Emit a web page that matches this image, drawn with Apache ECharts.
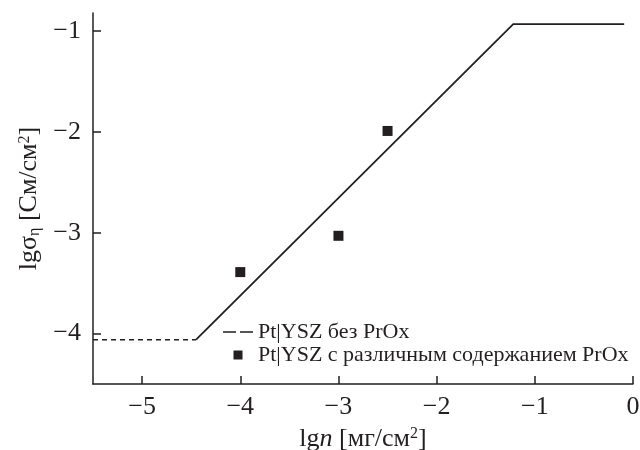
<!DOCTYPE html>
<html>
<head>
<meta charset="utf-8">
<script src="https://cdn.jsdelivr.net/npm/echarts@6/dist/echarts.min.js"></script>
<style>
    html, body {margin: 0; padding: 0; background: #fff;}
    #chart {width: 640px; height: 450px;}
</style>
</head>
<body>
<div id="chart"></div>
<script>
// horizontal part below the threshold (dashed)
const baseX = [-5.5, -4.45]
const baseY = [-4.06, -4.06]
// fitted line: rise then saturation
const fitX = [-4.45, -1.22, -0.09]
const fitY = [-4.06, -0.93, -0.93]
// measured samples
const pointX = [-4, -3, -2.5]
const pointY = [-3.39, -3.03, -1.99]

const xTicks = [-5, -4, -3, -2, -1, 0]
const yTicks = [-4, -3, -2, -1]

const ink = '#231f20'
const font = 'Liberation Serif'

const zip = (xs, ys) => xs.map((x, i) => [x, ys[i]])
const minus = (v) => String(v).replace('-', '\u2212')

const axisCommon = {
    type: 'value',
    splitLine: {show: false},
    axisLine: {show: true, onZero: false, lineStyle: {color: ink, width: 1.5}},
    nameLocation: 'middle',
}

const nameStyle = {
    fontFamily: font, fontSize: 26, color: ink,
    rich: {
        it: {fontFamily: font, fontSize: 26, fontStyle: 'italic', color: ink},
        sub: {fontFamily: font, fontSize: 16, color: ink, verticalAlign: 'bottom'},
        sup: {fontFamily: font, fontSize: 16, color: ink, verticalAlign: 'top'},
    },
}

const chart = echarts.init(document.getElementById('chart'))
chart.setOption({
    animation: false,
    textStyle: {fontFamily: font, color: ink},
    grid: {left: 93, right: 7, top: 13, bottom: 66, outerBoundsMode: 'none'},
    legend: {
        orient: 'vertical',
        left: 223,
        top: 321,
        padding: 0,
        itemGap: 1,
        itemWidth: 30,
        itemHeight: 9,
        selectedMode: false,
        textStyle: {fontFamily: font, fontSize: 22, color: ink, lineHeight: 22},
        data: [
            {name: 'Pt|YSZ без PrOx', icon: 'path://M0,0h13v1.5h-13z M17,0h13v1.5h-13z'},
            {name: 'Pt|YSZ с различным содержанием PrOx', icon: 'path://M0,0h10v10h-10z'},
        ],
    },
    xAxis: {
        ...axisCommon,
        min: -5.5,
        max: 0,
        name: 'lg{it|n} [мг/см{sup|2}]',
        nameGap: 42,
        nameTextStyle: nameStyle,
        axisTick: {show: true, inside: true, length: 8, lineStyle: {color: ink, width: 1.5}, customValues: xTicks},
        axisLabel: {fontFamily: font, fontSize: 26, color: ink, margin: 10, customValues: xTicks, formatter: minus},
    },
    yAxis: {
        ...axisCommon,
        min: -4.5,
        max: -0.82,
        name: 'lgσ{sub|η} [См/см{sup|2}]',
        nameGap: 50,
        nameTextStyle: nameStyle,
        axisTick: {show: true, inside: true, length: 8, lineStyle: {color: ink, width: 1.5}, customValues: yTicks},
        axisLabel: {fontFamily: font, fontSize: 26, color: ink, margin: 12, customValues: yTicks, formatter: minus},
    },
    series: [
        {
            name: 'Pt|YSZ без PrOx',
            type: 'line',
            data: zip(baseX, baseY),
            symbol: 'none',
            color: ink,
            lineStyle: {color: ink, width: 1.5, type: [5, 4]},
        },
        {
            name: 'fit',
            type: 'line',
            data: zip(fitX, fitY),
            symbol: 'none',
            color: ink,
            lineStyle: {color: ink, width: 1.8},
        },
        {
            name: 'Pt|YSZ с различным содержанием PrOx',
            type: 'scatter',
            data: zip(pointX, pointY),
            symbol: 'rect',
            symbolSize: 10,
            color: ink,
            itemStyle: {color: ink, opacity: 1},
        },
    ],
})
</script>
</body>
</html>
